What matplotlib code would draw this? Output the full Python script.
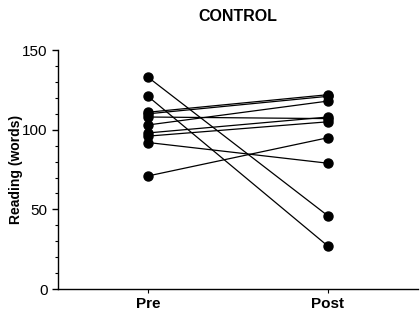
import matplotlib.pyplot as plt
from matplotlib.ticker import MultipleLocator

plt.rcParams['font.family'] = ['Liberation Sans', 'DejaVu Sans']

# reading scores per subject, pre and post
groups = ['Pre', 'Post']
pre = [133, 121, 111, 110, 108, 103, 98, 96, 92, 71]
post = [46, 27, 122, 121, 107, 118, 108, 105, 79, 95]

fig = plt.figure(figsize=(4.2, 3.17), dpi=100)
ax = fig.add_axes([0.138, 0.088, 0.857, 0.754])

for a, b in zip(pre, post):
    ax.plot([0, 1], [a, b], color='black', lw=0.9, marker='o', ms=6.5)

ax.set_xlim(-0.5, 1.5)
ax.set_ylim(0, 150)
ax.set_xticks([0, 1])
ax.set_xticklabels(groups, fontsize=11, fontweight='bold')
ax.yaxis.set_major_locator(MultipleLocator(50))
ax.yaxis.set_minor_locator(MultipleLocator(10))
ax.tick_params(axis='y', which='major', length=4, width=1, labelsize=11)
ax.tick_params(axis='y', which='minor', length=2, width=0.8)
ax.tick_params(axis='x', length=3, width=0.8, pad=3)
ax.set_ylabel('Reading (words)', fontsize=10, fontweight='bold')
ax.yaxis.set_label_coords(-0.097, 0.5)
ax.set_title('CONTROL', fontsize=11.5, fontweight='bold', pad=21)

for s in ['top', 'right']:
    ax.spines[s].set_visible(False)
for s in ['left', 'bottom']:
    ax.spines[s].set_linewidth(1)

fig.savefig('out.png', dpi=100)
